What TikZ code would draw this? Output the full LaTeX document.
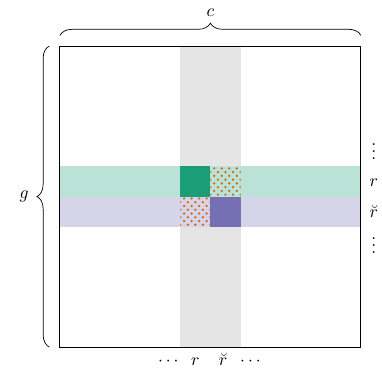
\documentclass[tikz,border=0pt]{standalone}
\usepackage{amsmath,amssymb}
\usetikzlibrary{decorations.pathreplacing,positioning}
\definecolor{darkTeal}{HTML}{1B9E77}
\definecolor{darkPurple}{HTML}{7570B3}
\definecolor{dotOrange}{HTML}{D95F02}

\begin{document}
\begin{tikzpicture}[x=0.6cm,y=0.6cm,lab/.style={inner sep=0.5pt}]
\path[use as bounding box] (-1.99,-0.86) rectangle (10.70,11.53);
\fill[black!10] (4,0) rectangle (6,10);
\fill[darkTeal!30] (0,5) rectangle (10,6);
\fill[darkPurple!30] (0,4) rectangle (10,5);
\fill[darkTeal] (4,5) rectangle (5,6);
\fill[darkPurple] (5,4) rectangle (6,5);
% dotted cells
\foreach \cx/\cy in {5/5,4/4}{
  \begin{scope}
    \clip (\cx,\cy) rectangle ++(1,1);
    \foreach \i in {0,...,8}{
      \foreach \j in {0,...,4}{
        \fill[dotOrange] ({\cx+0.25*\j+0.125*mod(\i,2)},{\cy+0.0625+0.125*\i}) circle (0.04);
      }
    }
  \end{scope}
}
\draw[line width=0.5pt] (0,0) rectangle (10,10);
\draw[decorate,decoration={brace,amplitude=7pt,raise=6pt}] (0,10) -- (10,10);
\draw[decorate,decoration={brace,amplitude=7pt,raise=6pt}] (0,0) -- (0,10);

\node[lab] (labC) at (5,11.10) {$c$};
\node[lab] (labG) at (-1.19,5) {$g$};

\node[lab] (rowDotsTop) at (10.43,6.68) {$\vdots$};
\node[lab] (rowR) at (10.43,5.45) {$r$};
\node[lab] (rowRb) at (10.43,4.5) {$\breve{r}$};
\node[lab] (rowDotsBot) at (10.43,3.55) {$\vdots$};

\node[lab,anchor=base] (colDotsL) at (3.65,-0.6) {$\cdots$};
\node[lab,anchor=base] (colR) at (4.5,-0.6) {$r$};
\node[lab,anchor=base] (colRb) at (5.42,-0.6) {$\breve{r}$};
\node[lab,anchor=base] (colDotsR) at (6.38,-0.6) {$\cdots$};
\end{tikzpicture}
\end{document}
